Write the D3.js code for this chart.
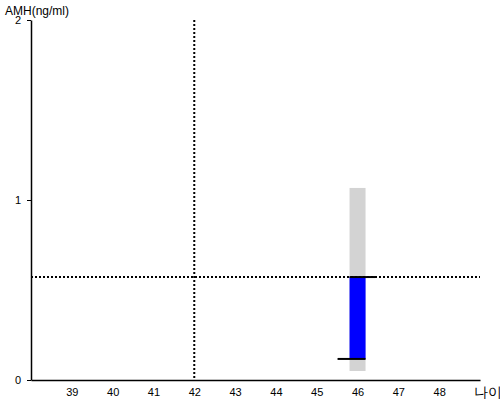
<!DOCTYPE html>
<html>
<head>
<meta charset="utf-8">
<script src="https://cdn.jsdelivr.net/npm/d3@7"></script>
<style>
body { margin: 0; background: #fff; }
text { font-family: "Liberation Sans", Arial, sans-serif; }
</style>
</head>
<body>
<div id="chart"></div>
<script>
// values
const ageTicks = [39, 40, 41, 42, 43, 44, 45, 46, 47, 48];
const amhTicks = [0, 1, 2];
const myAge = [42];
const myAmh = [0.572];
// reference range at the patient's age (gray), and the measured span (blue)
const rangeAge = [46];
const rangeLow = [0.05];
const rangeHigh = [1.067];
const barLow = [0.117];
const barHigh = [0.572];

const width = 500, height = 400;

const x = d3.scaleLinear().domain([38, 49]).range([31, 480]);
const y = d3.scaleLinear().domain([0, 2]).range([380, 20]);

const svg = d3.select('#chart').append('svg')
  .attr('width', width)
  .attr('height', height);

// gray normal range
svg.selectAll('.range')
  .data(rangeAge)
  .enter().append('rect')
  .attr('x', (d) => x(d) - 8)
  .attr('width', 16)
  .attr('y', (d, i) => y(rangeHigh[i]))
  .attr('height', (d, i) => y(rangeLow[i]) - y(rangeHigh[i]))
  .attr('fill', '#d3d3d3');

// blue bar
svg.selectAll('.bar')
  .data(rangeAge)
  .enter().append('rect')
  .attr('x', (d) => x(d) - 8)
  .attr('width', 16)
  .attr('y', (d, i) => y(barHigh[i]))
  .attr('height', (d, i) => y(barLow[i]) - y(barHigh[i]))
  .attr('fill', '#0000ff');

// dotted crosshair
svg.append('line')
  .attr('x1', x(38)).attr('x2', x(49))
  .attr('y1', y(myAmh[0])).attr('y2', y(myAmh[0]))
  .attr('stroke', '#000').attr('stroke-width', 2)
  .attr('stroke-dasharray', '2,2');

svg.append('line')
  .attr('x1', x(myAge[0])).attr('x2', x(myAge[0]))
  .attr('y1', y(2)).attr('y2', y(0))
  .attr('stroke', '#000').attr('stroke-width', 2)
  .attr('stroke-dasharray', '2,2');

// black end marks of the bar
svg.append('line')
  .attr('x1', x(rangeAge[0]) - 8).attr('x2', x(rangeAge[0]) + 18)
  .attr('y1', y(barHigh[0])).attr('y2', y(barHigh[0]))
  .attr('stroke', '#000').attr('stroke-width', 2);

svg.append('line')
  .attr('x1', x(rangeAge[0]) - 20).attr('x2', x(rangeAge[0]) + 8)
  .attr('y1', y(barLow[0])).attr('y2', y(barLow[0]))
  .attr('stroke', '#000').attr('stroke-width', 2);

// axes
const xAxis = svg.append('g')
  .attr('transform', 'translate(0,' + y(0) + ')')
  .call(d3.axisBottom(x).tickValues(ageTicks).tickSize(0).tickPadding(8));
xAxis.select('.domain').attr('stroke', '#000').attr('stroke-width', 1.5);
xAxis.selectAll('text').attr('font-size', 11).attr('fill', '#000')
  .attr('font-family', '"Liberation Sans", Arial, sans-serif');

const yAxis = svg.append('g')
  .attr('transform', 'translate(' + x(38) + ',0)')
  .call(d3.axisLeft(y).tickValues(amhTicks).tickFormat(d3.format('d')).tickSize(4).tickSizeOuter(0).tickPadding(6));
yAxis.select('.domain').attr('stroke', '#000').attr('stroke-width', 1.5);
yAxis.selectAll('text').attr('font-size', 11).attr('fill', '#000')
  .attr('font-family', '"Liberation Sans", Arial, sans-serif');

svg.append('text')
  .attr('x', 5).attr('y', 15)
  .attr('font-size', 12)
  .text('AMH(ng/ml)');

svg.append('text')
  .attr('x', 474).attr('y', 397)
  .attr('font-size', 14)
  .attr('font-family', '"Noto Sans CJK KR", sans-serif')
  .text('나이');
</script>
</body>
</html>
